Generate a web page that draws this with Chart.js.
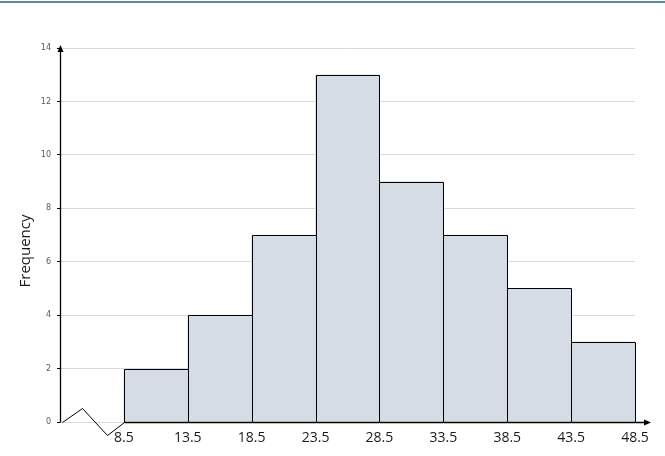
<!DOCTYPE html>
<html>
<head>
<meta charset="utf-8">
<script src="https://cdn.jsdelivr.net/npm/chart.js@4"></script>
<style>
  body { margin: 0; background: #fff; }
  canvas { display: block; }
</style>
</head>
<body>
<canvas id="grafico" width="665" height="456"></canvas>
<script>
// dados do histograma
const limitesClasse = [8.5, 13.5, 18.5, 23.5, 28.5, 33.5, 38.5, 43.5, 48.5];
const pontosMedios = [11, 16, 21, 26, 31, 36, 41, 46];
const frequencias = [2, 4, 7, 13, 9, 7, 5, 3];
const ticksY = [0, 2, 4, 6, 8, 10, 12, 14];
const tituloY = "Frequency";

// contorno das barras, eixos com setas, quebra em zigue-zague e linha azul no topo
const eixosPlugin = {
  id: "eixos",
  afterDatasetsDraw(chart) {
    const { ctx } = chart;
    ctx.save();
    ctx.strokeStyle = "#000";
    ctx.lineWidth = 1;
    chart.getDatasetMeta(0).data.forEach(bar => {
      const { x, y, base, width } = bar.getProps(["x", "y", "base", "width"], true);
      const l = Math.round(x - width / 2) + 0.5;
      const r = Math.round(x + width / 2) + 0.5;
      const t = Math.round(y) + 0.5;
      const b = Math.round(base) + 0.5;
      ctx.beginPath();
      ctx.moveTo(l, b);
      ctx.lineTo(l, t);
      ctx.lineTo(r, t);
      ctx.lineTo(r, b);
      ctx.stroke();
    });
    ctx.restore();
  },
  afterDraw(chart) {
    const { ctx, chartArea, scales } = chart;
    const x0 = Math.round(chartArea.left) + 0.5;
    const y0 = Math.round(scales.y.getPixelForValue(0)) + 0.5;
    const yTopo = scales.y.getPixelForValue(14);
    const xInicio = Math.round(scales.x.getPixelForValue(limitesClasse[0])) + 0.5;
    const xFim = scales.x.getPixelForValue(48.5);

    ctx.save();
    // linha azul no topo
    ctx.strokeStyle = "#5b87a8";
    ctx.lineWidth = 2;
    ctx.beginPath();
    ctx.moveTo(0, 2);
    ctx.lineTo(chart.width, 2);
    ctx.stroke();

    ctx.strokeStyle = "#000";
    ctx.fillStyle = "#000";
    ctx.lineWidth = 1.3;

    // eixo Y
    ctx.beginPath();
    ctx.moveTo(x0, y0);
    ctx.lineTo(x0, yTopo - 1);
    ctx.stroke();
    ctx.beginPath();
    ctx.moveTo(x0, yTopo - 3);
    ctx.lineTo(x0 - 3, yTopo + 4);
    ctx.lineTo(x0 + 3, yTopo + 4);
    ctx.closePath();
    ctx.fill();

    // eixo X
    ctx.beginPath();
    ctx.moveTo(xInicio, y0);
    ctx.lineTo(xFim + 10, y0);
    ctx.stroke();
    ctx.beginPath();
    ctx.moveTo(xFim + 16, y0);
    ctx.lineTo(xFim + 9, y0 - 3);
    ctx.lineTo(xFim + 9, y0 + 3);
    ctx.closePath();
    ctx.fill();

    // zigue-zague de quebra do eixo
    ctx.lineWidth = 1;
    ctx.beginPath();
    ctx.moveTo(x0 + 2, y0);
    ctx.lineTo(x0 + 22, y0 - 14);
    ctx.lineTo(x0 + 47, y0 + 13);
    ctx.lineTo(xInicio, y0);
    ctx.stroke();

    // título do eixo Y
    ctx.translate(26, 251);
    ctx.rotate(-Math.PI / 2);
    ctx.fillStyle = "#1a1a1a";
    ctx.font = "15px 'Open Sans'";
    ctx.textAlign = "center";
    ctx.textBaseline = "middle";
    ctx.fillText(tituloY, 0, 0);
    ctx.restore();
  }
};

new Chart(document.getElementById("grafico"), {
  type: "bar",
  data: {
    datasets: [
      {
        data: pontosMedios.map((m, i) => ({ x: m, y: frequencias[i] })),
        backgroundColor: "#d6dce5",
        borderWidth: 0,
        barPercentage: 1,
        categoryPercentage: 1
      }
    ]
  },
  options: {
    responsive: false,
    animation: false,
    layout: {
      padding: { left: 14, right: 30, top: 48, bottom: 0 }
    },
    plugins: {
      legend: { display: false },
      tooltip: { enabled: false }
    },
    scales: {
      x: {
        type: "linear",
        offset: false,
        min: 3.5,
        max: 48.5,
        afterBuildTicks: s => { s.ticks = limitesClasse.map(v => ({ value: v })); },
        afterFit: s => { s.height = 34; },
        grid: { display: false },
        border: { display: false },
        ticks: {
          autoSkip: false,
          maxRotation: 0,
          padding: 0,
          color: "#1a1a1a",
          font: { family: "Open Sans", size: 14 },
          callback: v => v.toFixed(1)
        }
      },
      y: {
        min: 0,
        max: 14,
        afterBuildTicks: s => { s.ticks = ticksY.map(v => ({ value: v })); },
        afterFit: s => { s.width = 46; },
        grid: { color: "#d9d9d9", tickColor: "#000", tickLength: 3, lineWidth: 1 },
        border: { display: false },
        ticks: {
          padding: 6,
          color: "#595959",
          font: { family: "DejaVu Sans", size: 8 }
        }
      }
    }
  },
  plugins: [eixosPlugin]
});
</script>
</body>
</html>
